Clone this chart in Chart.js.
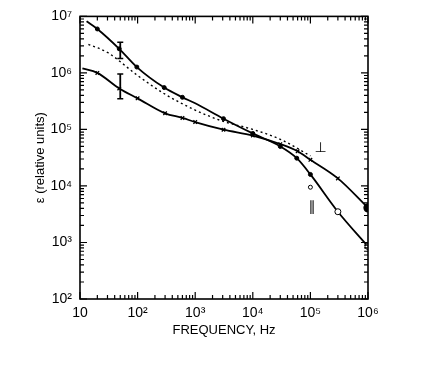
<!DOCTYPE html>
<html>
<head>
<meta charset="utf-8">
<script src="https://cdn.jsdelivr.net/npm/chart.js@4/dist/chart.umd.min.js"></script>
<style>
  html, body { margin: 0; padding: 0; background: #fff; }
  #wrap { width: 439px; height: 365px; }
</style>
</head>
<body>
<div id="wrap"><canvas id="myChart"></canvas></div>
<script>
// curve A: steep at low frequency, becomes curve "parallel" above 10^4 Hz
const freqA = [13, 20, 48, 97, 290, 600, 1000, 3100, 10000, 30000, 58000, 100000, 300000, 1000000];
const epsA = [8.2e6, 6.0e6, 2.67e6, 1.27e6, 5.5e5, 3.7e5, 2.9e5, 1.55e5, 8.5e4, 5.0e4, 3.1e4, 1.6e4, 3.5e3, 850];
// curve B: flat at low frequency, becomes curve "perpendicular" above 10^4 Hz
const freqB = [11, 20, 48, 100, 300, 600, 1000, 3100, 10000, 30000, 60000, 100000, 300000, 1000000];
const epsB = [1.2e6, 1.0e6, 5.3e5, 3.55e5, 1.93e5, 1.6e5, 1.35e5, 9.9e4, 7.8e4, 5.5e4, 4.1e4, 2.9e4, 1.36e4, 4.1e3];
// dotted curve
const freqC = [14, 30, 100, 300, 1000, 3000, 10000, 30000, 100000];
const epsC = [3.2e6, 2.3e6, 9.0e5, 4.2e5, 2.2e5, 1.4e5, 1.0e5, 6.7e4, 3.4e4];
// stray open point
const freqOpen = [100000];
const epsOpen = [9.5e3];
// error bars at 50 Hz
const errFreq = 50;
const errA = [3.5e6, 1.8e6];
const errB = [9.6e5, 3.5e5];
// curve labels
const curveLabels = ['\u22A5', '\u2225'];
const labelFreq = [1.5e5, 1.07e5];
const labelEps = [4.7e4, 4.1e3];

const xTicks = [10, 1e2, 1e3, 1e4, 1e5, 1e6];
const yTicks = [1e2, 1e3, 1e4, 1e5, 1e6, 1e7];
const sup = { 2: '\u00B2', 3: '\u00B3', 4: '\u2074', 5: '\u2075', 6: '\u2076', 7: '\u2077' };

function pts(xs, ys) {
  return xs.map((x, i) => ({ x: x, y: ys[i] }));
}
function powLabel(v) {
  const e = Math.round(Math.log10(v));
  return e === 1 ? '10' : '10' + sup[e];
}

// point styles for A: no mark at start or at 1 kHz, open circles on the high-frequency end
const radA = freqA.map((f, i) => (i === 0 || f === 1000 ? 0 : (f >= 300000 ? 3 : 2)));
const fillA = freqA.map(f => (f >= 300000 ? '#fff' : '#000'));
const radB = freqB.map((f, i) => (i === 0 ? 0 : (f === 1000000 ? 4 : 2.5)));
const styleB = freqB.map(f => (f === 1000000 ? 'circle' : 'crossRot'));

const frame = {
  id: 'frame',
  afterDraw(chart) {
    const { ctx, chartArea: a, scales: { x, y } } = chart;
    ctx.save();
    ctx.strokeStyle = '#000';
    ctx.lineWidth = 1.6;
    ctx.strokeRect(a.left, a.top, a.right - a.left, a.bottom - a.top);
    ctx.lineWidth = 1.2;
    ctx.beginPath();
    for (let d = 1; d <= 6; d++) {
      for (let m = 1; m <= 9; m++) {
        const v = m * Math.pow(10, d);
        if (v > 1e6) break;
        const px = x.getPixelForValue(v);
        const len = m === 1 ? 7 : 4;
        ctx.moveTo(px, a.bottom); ctx.lineTo(px, a.bottom - len);
        ctx.moveTo(px, a.top); ctx.lineTo(px, a.top + len);
      }
    }
    for (let d = 2; d <= 7; d++) {
      for (let m = 1; m <= 9; m++) {
        const v = m * Math.pow(10, d);
        if (v > 1e7) break;
        const py = y.getPixelForValue(v);
        const len = m === 1 ? 7 : 4;
        ctx.moveTo(a.left, py); ctx.lineTo(a.left + len, py);
        ctx.moveTo(a.right, py); ctx.lineTo(a.right - len, py);
      }
    }
    ctx.stroke();
    ctx.fillStyle = '#000';
    ctx.font = '14px "DejaVu Sans"';
    ctx.textAlign = 'center';
    ctx.textBaseline = 'middle';
    curveLabels.forEach((t, i) => {
      ctx.fillText(t, x.getPixelForValue(labelFreq[i]), y.getPixelForValue(labelEps[i]));
    });
    ctx.restore();
  }
};

const ctx = document.getElementById('myChart').getContext('2d');
new Chart(ctx, {
  type: 'scatter',
  data: {
    datasets: [
      {
        data: pts(freqA, epsA),
        showLine: true,
        borderColor: '#000',
        borderWidth: 1.8,
        cubicInterpolationMode: 'monotone',
        pointRadius: radA,
        pointBackgroundColor: fillA,
        pointBorderColor: '#000',
        pointBorderWidth: 1,
      },
      {
        data: pts(freqB, epsB),
        showLine: true,
        borderColor: '#000',
        borderWidth: 1.8,
        cubicInterpolationMode: 'monotone',
        pointStyle: styleB,
        pointRadius: radB,
        pointBackgroundColor: '#000',
        pointBorderColor: '#000',
        pointBorderWidth: 1.3,
      },
      {
        data: pts(freqC, epsC),
        showLine: true,
        borderColor: '#000',
        borderWidth: 1.4,
        borderDash: [2, 3],
        cubicInterpolationMode: 'monotone',
        pointRadius: 0,
      },
      {
        data: pts(freqOpen, epsOpen),
        pointRadius: 2,
        pointBackgroundColor: '#fff',
        pointBorderColor: '#000',
        pointBorderWidth: 1,
      },
      {
        data: pts([errFreq, errFreq], errA),
        showLine: true,
        borderColor: '#000',
        borderWidth: 1.8,
        pointStyle: 'line',
        pointRadius: 3,
        pointBorderColor: '#000',
        pointBorderWidth: 1.5,
      },
      {
        data: pts([errFreq, errFreq], errB),
        showLine: true,
        borderColor: '#000',
        borderWidth: 1.8,
        pointStyle: 'line',
        pointRadius: 3,
        pointBorderColor: '#000',
        pointBorderWidth: 1.5,
      },
    ],
  },
  options: {
    responsive: true,
    maintainAspectRatio: false,
    animation: false,
    layout: { padding: { top: 14, right: 71, left: 0, bottom: 0 } },
    plugins: { legend: { display: false }, tooltip: { enabled: false } },
    scales: {
      x: {
        type: 'logarithmic',
        min: 10,
        max: 1e6,
        afterBuildTicks: s => { s.ticks = xTicks.map(v => ({ value: v })); },
        afterFit: s => { s.height = 66; },
        grid: { display: false, drawTicks: false },
        border: { display: false },
        ticks: {
          color: '#000',
          font: { family: 'Liberation Sans', size: 14 },
          padding: 6,
          maxRotation: 0,
          autoSkip: false,
          callback: v => powLabel(v),
        },
        title: {
          display: true,
          text: 'FREQUENCY, Hz',
          color: '#000',
          font: { family: 'Liberation Sans', size: 13 },
          padding: { top: 2, bottom: 27 },
        },
      },
      y: {
        type: 'logarithmic',
        min: 100,
        max: 1e7,
        afterBuildTicks: s => { s.ticks = yTicks.map(v => ({ value: v })); },
        afterFit: s => { s.width = 80; },
        grid: { display: false, drawTicks: false },
        border: { display: false },
        ticks: {
          color: '#000',
          font: { family: 'Liberation Sans', size: 14 },
          padding: 8,
          autoSkip: false,
          callback: v => powLabel(v),
        },
        title: {
          display: true,
          text: '\u03B5 (relative units)',
          color: '#000',
          font: { family: 'Liberation Sans', size: 13 },
          padding: { top: 33, bottom: 0 },
        },
      },
    },
  },
  plugins: [frame],
});
</script>
</body>
</html>
